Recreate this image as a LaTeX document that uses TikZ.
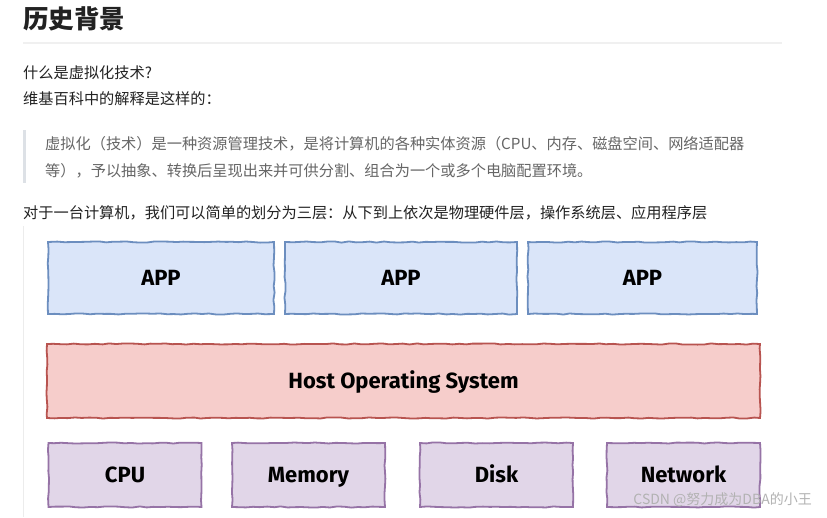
\documentclass[tikz,border=0pt]{standalone}
\usepackage{fontspec}
\setmainfont{Noto Sans CJK SC}
\newfontfamily\sketchfont{Fira Sans}
\usetikzlibrary{decorations.pathmorphing}

\definecolor{appfill}{HTML}{DAE5F9}
\definecolor{appline}{HTML}{6C8EBF}
\definecolor{osfill}{HTML}{F6CDCB}
\definecolor{osline}{HTML}{B85450}
\definecolor{hwfill}{HTML}{E1D6E8}
\definecolor{hwline}{HTML}{9673A6}
\definecolor{bodytext}{HTML}{222222}
\definecolor{quotetext}{HTML}{666666}
\definecolor{quotebar}{HTML}{DDE1E6}

\tikzset{
  sketchy/.style={draw, line width=1.8pt, inner sep=0pt,
    decorate, decoration={random steps, segment length=7pt, amplitude=0.6pt}},
  appbox/.style={sketchy, draw=appline, fill=appfill, minimum height=72pt},
  osbox/.style={sketchy, draw=osline, fill=osfill, minimum height=74pt},
  hwbox/.style={sketchy, draw=hwline, fill=hwfill, minimum height=64pt, minimum width=153pt},
  boxlabel/.style={font=\sketchfont\bfseries\fontsize{22}{22}\selectfont, text=black,
    inner sep=0pt, text height=15pt, text depth=0pt},
  line/.style={anchor=west, inner sep=0pt, font=\fontsize{15.2}{15.2}\selectfont, text=bodytext},
  quoteline/.style={line, text=quotetext}
}

\begin{document}
\begin{tikzpicture}[x=1pt, y=-1pt]
        \pgfmathsetseed{7}
        \useasboundingbox[fill=white] (0,0) rectangle (827,517);

        % Titolo
        \node[anchor=west, inner sep=0pt, font=\bfseries\fontsize{25.5}{25.5}\selectfont, text=bodytext] (title) at (23,19) {历史背景};
        \draw[line width=2pt, gray!12] (23,43) -- (782,43);

        % Testo
        \node[line] (question) at (23,73) {什么是虚拟化技术?};
        \node[line] (wiki) at (23,99) {维基百科中的解释是这样的：};

        % Citazione
        \fill[quotebar] (22.5,130) rectangle (26,183);
        \node[quoteline] (quote1) at (45,144) {虚拟化（技术）是一种资源管理技术，是将计算机的各种实体资源（CPU、内存、磁盘空间、网络适配器};
        \node[quoteline] (quote2) at (45,171) {等），予以抽象、转换后呈现出来并可供分割、组合为一个或多个电脑配置环境。};

        \node[line] (layers) at (23,213) {对于一台计算机，我们可以简单的划分为三层：从下到上依次是物理硬件层，操作系统层、应用程序层};

        % Bordo immagine
        \draw[gray!15, line width=1pt] (23,226) -- (23,517);

        % Applicazioni
        \node[appbox, minimum width=226pt] (app1) at (161,278) {};
        \node[appbox, minimum width=232pt] (app2) at (401,278) {};
        \node[appbox, minimum width=229pt] (app3) at (642.5,278) {};
        \node[boxlabel] at (app1) {APP};
        \node[boxlabel] at (app2) {APP};
        \node[boxlabel] at (app3) {APP};

        % Sistema operativo
        \node[osbox, minimum width=713pt] (hostos) at (403.5,381) {};
        \node[boxlabel] at (hostos) {Host Operating System};

        % Hardware
        \node[hwbox] (cpu) at (125,475) {};
        \node[hwbox] (mem) at (308.5,475) {};
        \node[hwbox] (disk) at (496.5,475) {};
        \node[hwbox] (net) at (683.5,475) {};
        \node[boxlabel] at (cpu) {CPU};
        \node[boxlabel] at (mem) {Memory};
        \node[boxlabel] at (disk) {Disk};
        \node[boxlabel] at (net) {Network};

        % Filigrana
        \node[anchor=east, inner sep=0pt, font=\fontsize{14}{14}\selectfont, text=gray!60] (mark) at (812,500) {CSDN @努力成为DBA的小王};
    \end{tikzpicture}
\end{document}
